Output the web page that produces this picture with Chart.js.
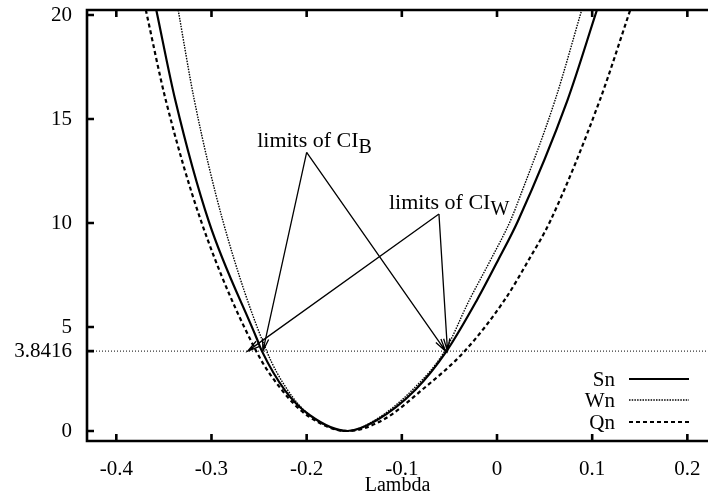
<!DOCTYPE html>
<html><head><meta charset="utf-8">
<script src="https://cdn.jsdelivr.net/npm/chart.js@4/dist/chart.umd.min.js"></script>
<style>html,body{margin:0;padding:0;background:#fff}#wrap{width:708px;height:494px}</style>
</head><body><div id="wrap"><canvas id="c" width="708" height="494"></canvas></div>
<script>
// ---- data ----
const xTicks = [-0.4, -0.3, -0.2, -0.1, 0, 0.1, 0.2];
const yTicks = [0, 3.8416, 5, 10, 15, 20];
const X_MIN = -0.4308, X_MAX = 0.2217;
const Y_MIN = -0.48, Y_MAX = 20.24;
const critValue = 3.8416;

const snLambda = [-0.358, -0.338, -0.303, -0.252, -0.247, -0.223, -0.197, -0.157, -0.126, -0.086, -0.053, -0.021, 0.001, 0.022, 0.074, 0.105];
const snValue  = [20.24, 15.9, 10.1, 4.4, 3.84, 1.97, 0.77, 0, 0.53, 1.97, 3.84, 6.3, 8.2, 10.1, 15.9, 20.24];

const wnLambda = [-0.335, -0.318, -0.288, -0.242, -0.220, -0.197, -0.157, -0.128, -0.089, -0.055, -0.029, -0.007, 0.014, 0.024, 0.061, 0.089];
const wnValue  = [20.24, 15.9, 10.1, 3.84, 1.97, 0.77, 0, 0.53, 1.97, 3.84, 6.3, 8.2, 10.1, 11.25, 15.9, 20.24];

const qnLambda = [-0.369, -0.348, -0.311, -0.253, -0.226, -0.200, -0.157, -0.120, -0.079, -0.034, 0.008, 0.033, 0.056, 0.108, 0.140];
const qnValue  = [20.24, 15.9, 10.1, 3.84, 1.97, 0.77, 0, 0.53, 1.97, 3.84, 6.3, 8.2, 10.1, 15.9, 20.24];

const seriesNames = ['Sn', 'Wn', 'Qn'];

// annotations: label anchor, arrow origin, arrow tips (data coords)
const ciBLabel = {x: -0.252, y: 13.65, text: 'limits of CI', sub: 'B'};
const ciBFrom = {x: -0.2, y: 13.4};
const ciBTips = [{x: -0.246, y: 3.84}, {x: -0.054, y: 3.84}];
const ciWLabel = {x: -0.1135, y: 10.67, text: 'limits of CI', sub: 'W'};
const ciWFrom = {x: -0.061, y: 10.43};
const ciWTips = [{x: -0.262, y: 3.84}, {x: -0.052, y: 3.84}];

// ---- chart ----
const FONT = "'Liberation Serif', 'Times New Roman', serif";
const tickFont = {family: FONT, size: 21};
const titleFont = {family: FONT, size: 20};
const toXY = (xs, ys) => xs.map((x, i) => ({x, y: ys[i]}));

const styles = {
  Sn: {borderWidth: 2.2, borderDash: []},
  Wn: {borderWidth: 1.4, borderDash: [1.5, 1.2]},
  Qn: {borderWidth: 2.2, borderDash: [4, 3]}
};

const overlay = {
  id: 'overlay',
  afterDraw(chart) {
    const {ctx, chartArea: a, scales: {x, y}} = chart;
    ctx.save();
    ctx.strokeStyle = '#000';
    ctx.fillStyle = '#000';
    // frame
    ctx.lineWidth = 2.6;
    ctx.setLineDash([]);
    ctx.beginPath();
    ctx.moveTo(a.right + 2, a.top); ctx.lineTo(a.left, a.top); ctx.lineTo(a.left, a.bottom); ctx.lineTo(a.right + 2, a.bottom);
    ctx.stroke();
    // ticks (inward)
    const tl = 7;
    ctx.beginPath();
    xTicks.forEach(v => {
      const p = x.getPixelForValue(v);
      ctx.moveTo(p, a.bottom); ctx.lineTo(p, a.bottom - tl);
      ctx.moveTo(p, a.top); ctx.lineTo(p, a.top + tl);
    });
    yTicks.forEach(v => {
      const p = y.getPixelForValue(v);
      ctx.moveTo(a.left, p); ctx.lineTo(a.left + tl, p);
    });
    ctx.stroke();
    // arrows
    ctx.lineWidth = 1.3;
    const arrow = (f, t) => {
      const x0 = x.getPixelForValue(f.x), y0 = y.getPixelForValue(f.y);
      const x1 = x.getPixelForValue(t.x), y1 = y.getPixelForValue(t.y);
      const ang = Math.atan2(y1 - y0, x1 - x0);
      const L = 13, h = 0.24;
      ctx.beginPath();
      ctx.moveTo(x0, y0); ctx.lineTo(x1, y1);
      ctx.moveTo(x1 - L * Math.cos(ang - h), y1 - L * Math.sin(ang - h));
      ctx.lineTo(x1, y1);
      ctx.lineTo(x1 - L * Math.cos(ang + h), y1 - L * Math.sin(ang + h));
      ctx.stroke();
    };
    ciBTips.forEach(t => arrow(ciBFrom, t));
    ciWTips.forEach(t => arrow(ciWFrom, t));
    // labels
    const label = (lb) => {
      const px = x.getPixelForValue(lb.x), py = y.getPixelForValue(lb.y);
      ctx.font = `22px ${FONT}`;
      ctx.textAlign = 'left'; ctx.textBaseline = 'alphabetic';
      ctx.fillText(lb.text, px, py);
      const w = ctx.measureText(lb.text).width;
      ctx.font = `20px ${FONT}`;
      ctx.fillText(lb.sub, px + w, py + 6);
    };
    label(ciBLabel); label(ciWLabel);
    // legend
    const rowY = [379, 400, 422];
    ctx.font = `21px ${FONT}`;
    ctx.textAlign = 'right'; ctx.textBaseline = 'middle';
    seriesNames.forEach((n, i) => {
      const yy = rowY[i];
      ctx.fillText(n, a.right - 93, yy + 1);
      ctx.lineWidth = styles[n].borderWidth;
      ctx.setLineDash(styles[n].borderDash);
      ctx.beginPath(); ctx.moveTo(a.right - 79, yy); ctx.lineTo(a.right - 19, yy); ctx.stroke();
    });
    ctx.restore();
  }
};

const datasets = [
  {label: 'Sn', data: toXY(snLambda, snValue)},
  {label: 'Wn', data: toXY(wnLambda, wnValue)},
  {label: 'Qn', data: toXY(qnLambda, qnValue)}
].map(d => Object.assign(d, styles[d.label], {
  borderColor: '#000', pointRadius: 0, fill: false, cubicInterpolationMode: 'monotone'
}));
datasets.push({label: 'crit', data: [{x: X_MIN, y: critValue}, {x: X_MAX, y: critValue}],
  borderColor: '#000', borderWidth: 1, borderDash: [1, 2], pointRadius: 0, fill: false});

new Chart(document.getElementById('c'), {
  type: 'line',
  data: {datasets},
  options: {
    responsive: false, animation: false, devicePixelRatio: 1,
    layout: {padding: {top: 10, right: 0, left: 0, bottom: 0}},
    plugins: {legend: {display: false}, tooltip: {enabled: false}},
    scales: {
      x: {
        type: 'linear', min: X_MIN, max: X_MAX,
        grid: {display: false}, border: {display: false},
        afterBuildTicks: s => { s.ticks = xTicks.map(v => ({value: v})); },
        afterFit: s => { s.height = 53; s.paddingLeft = 0; s.paddingRight = 0; },
        ticks: {font: tickFont, color: '#000', padding: 8, maxRotation: 0, autoSkip: false,
          callback: v => String(Number(v.toFixed(1)))},
        title: {display: true, text: 'Lambda', font: titleFont, color: '#000', padding: {top: 0, bottom: -4}}
      },
      y: {
        type: 'linear', min: Y_MIN, max: Y_MAX,
        grid: {display: false}, border: {display: false},
        afterBuildTicks: s => { s.ticks = yTicks.map(v => ({value: v})); },
        afterFit: s => { s.width = 87; s.paddingTop = 0; s.paddingBottom = 0; },
        ticks: {font: tickFont, color: '#000', padding: 7, autoSkip: false,
          callback: v => v === critValue ? '3.8416' : String(v)}
      }
    }
  },
  plugins: [overlay]
});
</script></body></html>
